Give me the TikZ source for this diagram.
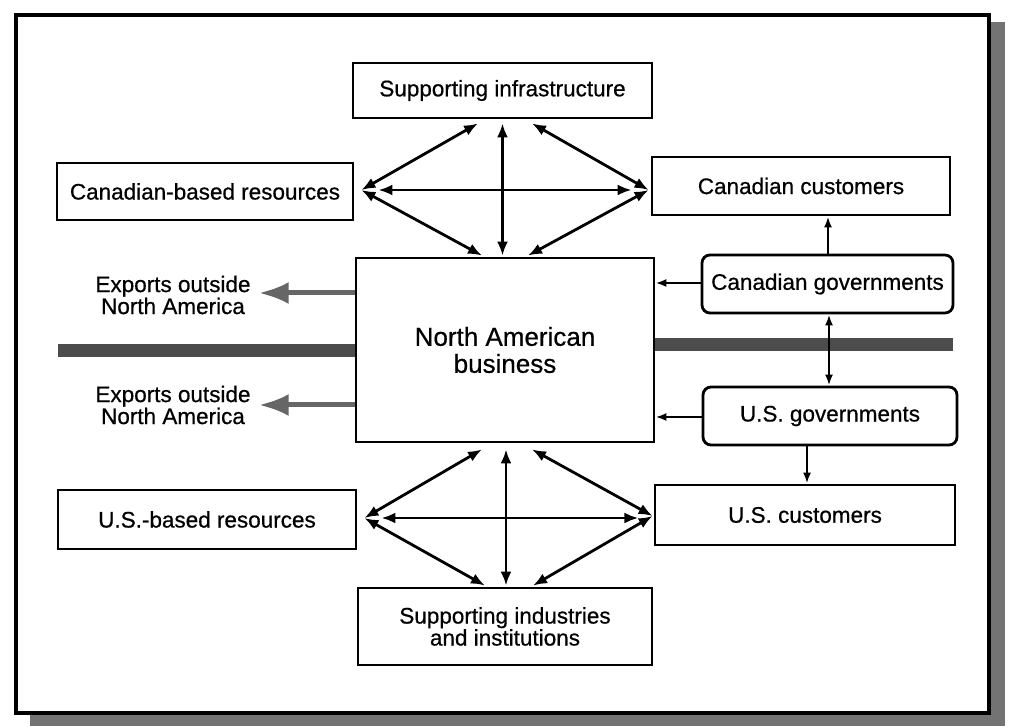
\documentclass[tikz,border=0pt]{standalone}
\usepackage{fontspec}
\setmainfont{Liberation Sans}[FakeBold=0.6]
\usetikzlibrary{arrows.meta,calc}

\begin{document}
\begin{tikzpicture}[x=1pt,y=-1pt,
  box/.style={draw,line width=2.8pt,inner sep=0pt,align=center,
    font=\fontsize{22.5}{22}\selectfont},
  govbox/.style={box,rounded corners=8pt},
  lbl/.style={inner sep=0pt,align=center,font=\fontsize{22.5}{20}\selectfont},
  dbl/.style={{Latex[length=14pt,width=11pt]}-{Latex[length=14pt,width=11pt]},line width=2.8pt},
  govarrow/.style={-{Latex[length=11pt,width=8pt]},line width=2.2pt},
  govdbl/.style={{Latex[length=11pt,width=8pt]}-{Latex[length=11pt,width=8pt]},line width=2.2pt},
  export/.style={-{Latex[length=30pt,width=22pt]},line width=5pt,draw=black!60,fill=black!60},
  band/.style={line width=13pt,draw=black!70}]

\useasboundingbox (0,0) rectangle (1010,727);

% frame with drop shadow
\fill[black!55] (30,22) rectangle (1005,726);
\draw[line width=3.2pt,fill=white] (16,15) rectangle (989,713);

% boxes
\node[box,minimum width=299pt,minimum height=55pt] (inf) at (502.5,90.5) {Supporting infrastructure};
\node[box,minimum width=296pt,minimum height=57pt] (cres) at (205,191.5) {Canadian-based resources};
\node[box,minimum width=298pt,minimum height=58pt] (ccust) at (801,186) {Canadian customers};
\node[box,minimum width=298pt,minimum height=184pt,
  font=\fontsize{26}{27}\selectfont] (nab) at (505,350) {North American\\business};
\node[govbox,minimum width=251pt,minimum height=58pt] (cgov) at (827.5,284) {Canadian governments};
\node[govbox,minimum width=254pt,minimum height=58pt] (usgov) at (830,416) {U.S. governments};
\node[box,minimum width=300pt,minimum height=60pt] (uscust) at (805,515) {U.S. customers};
\node[box,minimum width=298pt,minimum height=59pt] (usres) at (207,519.5) {U.S.-based resources};
\node[box,minimum width=294pt,minimum height=77pt] (sind) at (505,626.5) {Supporting industries\\and institutions};

% export labels
\node[lbl] (ex1) at (173,295) {Exports outside\\North America};
\node[lbl] (ex2) at (173,405) {Exports outside\\North America};

% border bands
\draw[band] (58,351) -- (nab.west |- 0,351);
\draw[band] (nab.east |- 0,345) -- (953,345);

% exports
\draw[export] (nab.west |- 0,293) -- ($(ex1.east)+(8,-2)$);
\draw[export] (nab.west |- 0,405) -- ($(ex2.east)+(8,0)$);

% upper diamond
\coordinate (uL) at ($(cres.east)+(7,-1.5)$);
\coordinate (uR) at ($(ccust.west)+(-2,4)$);
\coordinate (uV) at ($(inf.south)+(0,4)$);
\draw[dbl] (uL) -- ($(inf.south)+(-24.5,4)$);
\draw[dbl] (uL) -- ($(nab.north)+(-23,-1)$);
\draw[dbl] (uR) -- ($(inf.south)+(29.5,4)$);
\draw[dbl] (uR) -- ($(nab.north)+(23,-1)$);
\draw[dbl,shorten >=1pt] (uV) -- (uV |- nab.north);
\draw[dbl] ($(uL)+(17,0)$) -- ($(uR)+(-17,0)$);

% lower diamond
\coordinate (lL) at ($(usres.east)+(7,-1.5)$);
\coordinate (lR) at ($(uscust.west)+(-1,1)$);
\coordinate (lV) at ($(nab.south)+(1,6)$);
\draw[dbl] (lL) -- ($(nab.south)+(-23,6)$);
\draw[dbl] (lL) -- ($(sind.north)+(-20,-1)$);
\draw[dbl] (lR) -- ($(nab.south)+(27,6)$);
\draw[dbl] (lR) -- ($(sind.north)+(28,-1)$);
\draw[dbl,shorten >=1pt] (lV) -- (lV |- sind.north);
\draw[dbl] ($(lL)+(17,0)$) -- ($(lL)+(274,0)$);

% governments
\draw[govarrow] (cgov.west |- 0,283) -- (nab.east |- 0,283);
\draw[govarrow] (usgov.west |- 0,417) -- (nab.east |- 0,417);
\coordinate (cg) at ($(cgov.north)+(0.5,0)$);
\draw[govarrow] (cg) -- (cg |- ccust.south);
\coordinate (gv) at ($(cgov.south)+(1.5,0)$);
\draw[govdbl] (gv) -- (gv |- usgov.north);
\coordinate (ug) at ($(usgov.south)+(-23,0)$);
\draw[govarrow] (ug) -- (ug |- uscust.north);
\end{tikzpicture}
\end{document}
